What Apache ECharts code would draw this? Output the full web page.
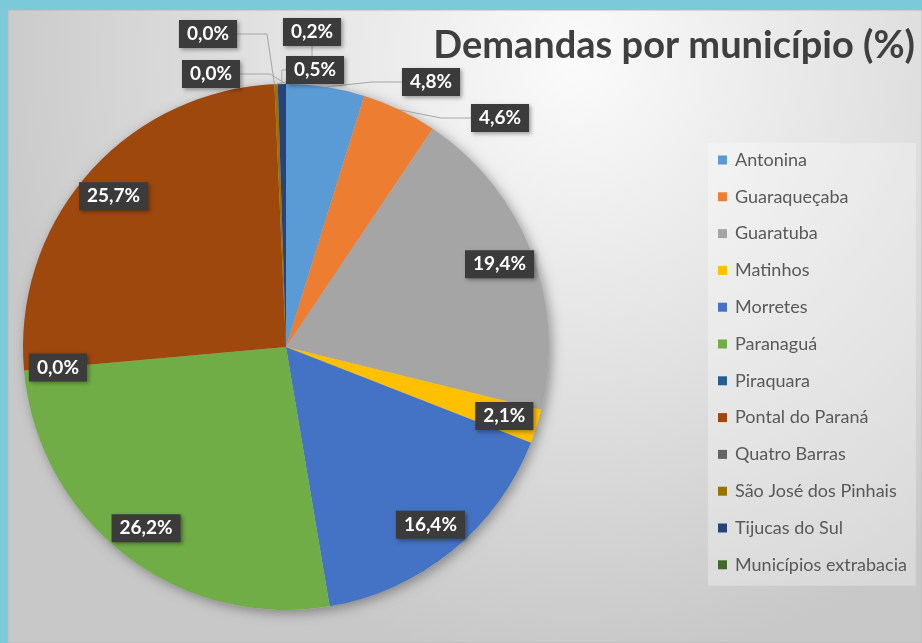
<!DOCTYPE html>
<html lang="pt">
<head>
    <meta charset="UTF-8">
    <title>Demandas por município</title>
    <style>
        html, body { margin: 0; padding: 0; background: #7cc9da; }
    </style>
</head>
<body>

    <div id="echarts" style="width: 922px; height: 643px"></div>
    <script src="https://cdn.jsdelivr.net/npm/echarts@6/dist/echarts.min.js"></script>
    <script>
        // share of demands per municipality, in %
        const municipios = ['Antonina', 'Guaraqueçaba', 'Guaratuba', 'Matinhos', 'Morretes', 'Paranaguá',
            'Piraquara', 'Pontal do Paraná', 'Quatro Barras', 'São José dos Pinhais', 'Tijucas do Sul',
            'Municípios extrabacia'];
        const demandas = [4.8, 4.6, 19.4, 2.1, 16.4, 26.2, 0.0, 25.7, 0.0, 0.2, 0.5, 0.0];
        const cores = ['#5b9bd5', '#ed7d31', '#a5a5a5', '#ffc000', '#4472c4', '#70ad47',
            '#255e91', '#9e480e', '#636363', '#997300', '#264478', '#43682b'];
        // slices whose label sits outside the pie with a leader line
        const rotulosFora = ['Antonina', 'Guaraqueçaba', 'Quatro Barras', 'São José dos Pinhais',
            'Tijucas do Sul', 'Municípios extrabacia'];

        // where the outside label boxes go (box centre, px), like the Excel layout
        const posRotulo = {
            'Antonina': [431, 82],
            'Guaraqueçaba': [500, 118],
            'Quatro Barras': [208, 34],
            'São José dos Pinhais': [312, 32],
            'Tijucas do Sul': [315, 70],
            'Municípios extrabacia': [211, 74]
        };

        const fmt = p => p.value.toFixed(1).replace('.', ',') + '%';

        const labelBox = {
            color: '#fff',
            fontFamily: 'Lato',
            fontWeight: 'bold',
            fontSize: 19,
            lineHeight: 20,
            backgroundColor: '#3b3b3b',
            padding: [4, 8],
            shadowBlur: 4,
            shadowOffsetX: 2,
            shadowOffsetY: 2,
            shadowColor: 'rgba(0,0,0,0.35)',
            formatter: fmt
        };

        const center = [286, 347];
        const R = 263;

        const option = {
            color: cores,
            graphic: [
                {
                    type: 'rect',
                    shape: { x: 8, y: 10, width: 914, height: 633 },
                    style: {
                        fill: {
                            type: 'radial', x: 0.62, y: 0.08, r: 0.95,
                            colorStops: [
                                { offset: 0, color: '#fbfbfb' },
                                { offset: 0.55, color: '#e0e0e0' },
                                { offset: 1, color: '#c8c8c8' }
                            ]
                        },
                        stroke: '#b9b9b9',
                        lineWidth: 1
                    },
                    z: -10
                }
            ],
            title: {
                text: 'Demandas por município (%)',
                right: 2,
                top: 22,
                textStyle: {
                    fontFamily: 'Lato',
                    fontWeight: 'bold',
                    fontSize: 38,
                    color: '#3f3f3f'
                }
            },
            legend: {
                orient: 'vertical',
                left: 708,
                top: 143,
                padding: [8, 9, 12, 10],
                backgroundColor: 'rgba(255,255,255,0.3)',
                icon: 'rect',
                itemWidth: 9,
                itemHeight: 9,
                itemGap: 18.8,
                data: municipios,
                textStyle: {
                    fontFamily: 'Lato',
                    fontSize: 18,
                    lineHeight: 18,
                    padding: [0, 0, 0, 3],
                    color: '#595959'
                }
            },
            series: [
                {
                    // soft drop shadow under the whole pie
                    name: 'Sombra',
                    type: 'pie',
                    center: center,
                    radius: R,
                    silent: true,
                    animation: false,
                    z: 1,
                    label: { show: false },
                    labelLine: { show: false },
                    itemStyle: {
                        color: '#bdbdbd',
                        shadowBlur: 12,
                        shadowOffsetX: 3,
                        shadowOffsetY: 3,
                        shadowColor: 'rgba(0,0,0,0.35)'
                    },
                    data: [{ name: 'sombra', value: 1 }]
                },
                {
                    name: 'Demandas',
                    type: 'pie',
                    center: center,
                    radius: R,
                    startAngle: 90,
                    clockwise: true,
                    avoidLabelOverlap: false,
                    animation: false,
                    label: labelBox,
                    labelLine: {
                        length: 14,
                        length2: 30,
                        lineStyle: { color: '#a6a6a6', width: 1 }
                    },
                    labelLayout: function (params) {
                        const p = posRotulo[municipios[params.dataIndex]];
                        if (!p) return {};
                        return { x: p[0], y: p[1], align: 'center', verticalAlign: 'middle' };
                    },
                    data: municipios.map((n, i) => {
                        const fora = rotulosFora.includes(n);
                        return {
                            name: n,
                            value: demandas[i],
                            label: { show: fora, position: 'outside' },
                            labelLine: { show: fora }
                        };
                    })
                },
                {
                    // transparent ring used only to place the inside labels near the rim
                    name: 'Rótulos',
                    type: 'pie',
                    center: center,
                    radius: [Math.round(R * 0.72), R],
                    startAngle: 90,
                    clockwise: true,
                    silent: true,
                    animation: false,
                    itemStyle: { color: 'transparent' },
                    label: Object.assign({}, labelBox, { position: 'inside' }),
                    labelLine: { show: false },
                    data: municipios.map((n, i) => ({
                        name: n,
                        value: demandas[i],
                        label: { show: !rotulosFora.includes(n) }
                    }))
                }
            ]
        };

        var chartDom = document.getElementById("echarts");
        var myChart = echarts.init(chartDom);
        myChart.setOption(option);
    </script>
</body>
</html>
